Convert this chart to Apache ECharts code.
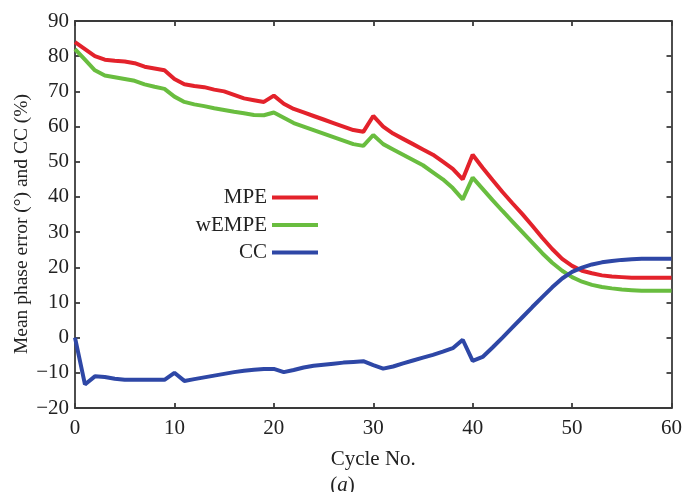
<!DOCTYPE html>
<html>
<head>
<meta charset="utf-8">
<script src="https://cdn.jsdelivr.net/npm/echarts@6/dist/echarts.min.js"></script>
<style>html,body{margin:0;padding:0;background:#fff}#c{width:685px;height:492px}</style>
</head>
<body>
<div id="c"></div>
<script>
const cycles = Array.from({length: 61}, (_, i) => i);
const mpe = [84,82,80,79,78.7,78.5,78,77,76.5,76,73.5,72,71.5,71.2,70.5,70,69,68,67.5,67,68.8,66.5,65,64,63,62,61,60,59,58.5,63,60,58,56.5,55,53.5,52,50,48,45,52,48.3,44.8,41.4,38.2,35.1,31.8,28.4,25.2,22.4,20.4,19,18.3,17.7,17.4,17.2,17,17,17,17,17];
const wempe = [82,79,76,74.5,74,73.5,73,72,71.3,70.7,68.5,67,66.3,65.8,65.2,64.7,64.2,63.8,63.3,63.2,64,62.5,61,60,59,58,57,56,55,54.5,57.6,55,53.5,52,50.5,49,47,45,42.5,39.3,45.5,42.3,39.1,36,33,30,27,24,21.3,19,17.2,15.9,15,14.4,14,13.7,13.5,13.3,13.3,13.3,13.3];
const cc = [0,-13.3,-11,-11.2,-11.7,-12,-12,-12,-12,-12,-10,-12.3,-11.8,-11.3,-10.8,-10.3,-9.8,-9.4,-9.1,-8.9,-8.9,-9.8,-9.2,-8.5,-8,-7.7,-7.4,-7.1,-6.9,-6.7,-7.8,-8.8,-8.2,-7.3,-6.5,-5.7,-4.9,-4,-3,-0.6,-6.6,-5.5,-2.8,0,2.9,5.8,8.7,11.5,14.3,16.8,18.7,19.9,20.8,21.4,21.8,22.1,22.3,22.4,22.4,22.4,22.4];
const seriesNames = ['MPE','wEMPE','CC'];
const colors = ['#e3222b','#69bd3f','#2e47a6'];
const yTitle = 'Mean phase error (°) and CC (%)';
const xTitle = 'Cycle No.';

const font = '"Liberation Serif", "DejaVu Serif", serif';
const axisLineStyle = {color:'#3a3a3a', width:1.8};
const chart = echarts.init(document.getElementById('c'));
const mk = (name, data, color) => ({
  name, type:'line', data: cycles.map((x,i)=>[x,data[i]]),
  showSymbol:false, symbol:'none', lineStyle:{color, width:4}, itemStyle:{color}, z: 3
});
chart.setOption({
  animation:false,
  backgroundColor:'#fff',
  textStyle:{fontFamily:font},
  grid:{left:75, right:12, top:21, bottom:84},
  title:{
    text:'({i|a})', left:'center', top:475, padding:0,
    textStyle:{fontFamily:font, fontSize:21, fontWeight:'normal', color:'#222',
      rich:{i:{fontFamily:font, fontStyle:'italic', fontSize:21, color:'#222'}}}
  },
  graphic:[{
    type:'text', x:22, y:224, rotation:Math.PI/2,
    style:{text:yTitle, fontFamily:font, fontSize:19.5, fill:'#222', align:'center', verticalAlign:'middle'}
  }],
  legend:{
    orient:'vertical', right:367, top:187, align:'right', padding:0,
    itemWidth:46, itemHeight:4, itemGap:6.5, icon:'rect',
    textStyle:{fontFamily:font, fontSize:21, color:'#222'},
    data: seriesNames
  },
  xAxis:[{
    type:'value', min:0, max:60, interval:10,
    name:xTitle, nameLocation:'middle', nameGap:41,
    nameTextStyle:{fontFamily:font, fontSize:21, color:'#222'},
    axisLine:{show:true, onZero:false, lineStyle:axisLineStyle},
    axisTick:{show:true, inside:true, length:5, lineStyle:axisLineStyle},
    axisLabel:{fontFamily:font, fontSize:21, color:'#222', margin:10},
    splitLine:{show:false}
  },{
    type:'value', position:'top', min:0, max:60, interval:10,
    axisLine:{show:true, onZero:false, lineStyle:axisLineStyle},
    axisTick:{show:true, inside:true, length:5, lineStyle:axisLineStyle},
    axisLabel:{show:false}, splitLine:{show:false}
  }],
  yAxis:[{
    type:'value', min:-20, max:90, interval:10,
    axisLine:{show:true, onZero:false, lineStyle:axisLineStyle},
    axisTick:{show:true, inside:true, length:5, lineStyle:axisLineStyle},
    axisLabel:{fontFamily:font, fontSize:21, color:'#222', margin:6,
      formatter:v=>String(v).replace('-','\u2212')},
    splitLine:{show:false}
  },{
    type:'value', position:'right', min:-20, max:90, interval:10,
    axisLine:{show:true, onZero:false, lineStyle:axisLineStyle},
    axisTick:{show:true, inside:true, length:5, lineStyle:axisLineStyle},
    axisLabel:{show:false}, splitLine:{show:false}
  }],
  series:[
    mk(seriesNames[0], mpe, colors[0]),
    mk(seriesNames[1], wempe, colors[1]),
    mk(seriesNames[2], cc, colors[2])
  ]
});
</script>
</body>
</html>
